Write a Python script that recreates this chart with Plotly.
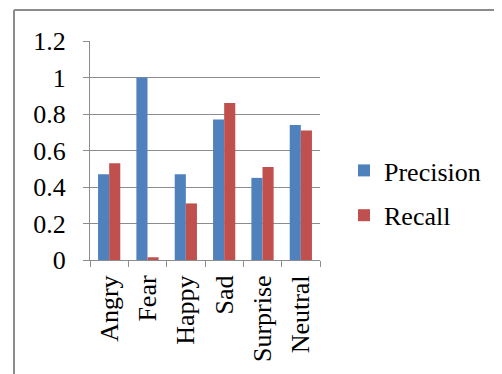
import plotly.graph_objects as go

categories = ["Angry", "Fear", "Happy", "Sad", "Surprise", "Neutral"]
precision = [0.47, 1.0, 0.47, 0.77, 0.45, 0.74]
recall = [0.53, 0.015, 0.31, 0.86, 0.51, 0.71]
y_ticks = [0, 0.2, 0.4, 0.6, 0.8, 1, 1.2]
y_tick_text = ["0", "0.2", "0.4", "0.6", "0.8", "1", "1.2"]

FONT = "Liberation Serif, Times New Roman, serif"
OFF = 8  # browser body margin
W, H = 502 - OFF, 374 - OFF
L, R, T, B = 90 - OFF, 182, 41 - OFF, 122 - OFF
pw = W - L - R
ph = H - T - B

def px_x(x):
    return (x - OFF - L) / pw

def px_y(y):
    return (H - B - (y - OFF)) / ph

fig = go.Figure()
fig.add_trace(go.Bar(x=categories, y=precision, name="Precision",
                     marker=dict(color="#4F81BD", line=dict(width=0)),
                     legendgroup="p"))
fig.add_trace(go.Bar(x=categories, y=recall, name="Recall",
                     marker=dict(color="#C0504D", line=dict(width=0)),
                     legendgroup="r"))

fig.update_layout(
    width=W, height=H,
    margin=dict(l=L, r=R, t=T, b=B, pad=0),
    paper_bgcolor="white", plot_bgcolor="white",
    barmode="group", bargap=0.42, bargroupgap=0,
    font=dict(family=FONT, size=26, color="black"),
    legend=dict(x=px_x(344), y=px_y(193), xanchor="left", yanchor="middle",
                font=dict(family=FONT, size=26, color="black"),
                tracegroupgap=8, bgcolor="rgba(0,0,0,0)"),
    xaxis=dict(showline=True, linecolor="#8c8c8c", linewidth=1,
               ticks="outside", tickson="boundaries", ticklen=6,
               tickcolor="#8c8c8c", tickangle=-90,
               tickfont=dict(family=FONT, size=26, color="black"),
               showgrid=False, ticklabelstandoff=4),
    yaxis=dict(range=[0, 1.2], tickvals=y_ticks, ticktext=y_tick_text,
               showline=True, linecolor="#8c8c8c", linewidth=1,
               ticks="outside", ticklen=6, tickcolor="#8c8c8c",
               showgrid=True, gridcolor="#8c8c8c", gridwidth=1,
               zeroline=False,
               tickfont=dict(family=FONT, size=26, color="black"),
               ticklabelstandoff=12),
    shapes=[
        dict(type="line", xref="paper", yref="paper",
             x0=px_x(14), x1=px_x(520), y0=px_y(10), y1=px_y(10),
             line=dict(color="#8c8c8c", width=2)),
        dict(type="line", xref="paper", yref="paper",
             x0=px_x(14), x1=px_x(14), y0=px_y(10), y1=px_y(390),
             line=dict(color="#8c8c8c", width=2)),
    ],
)

fig.write_html("out.html")
